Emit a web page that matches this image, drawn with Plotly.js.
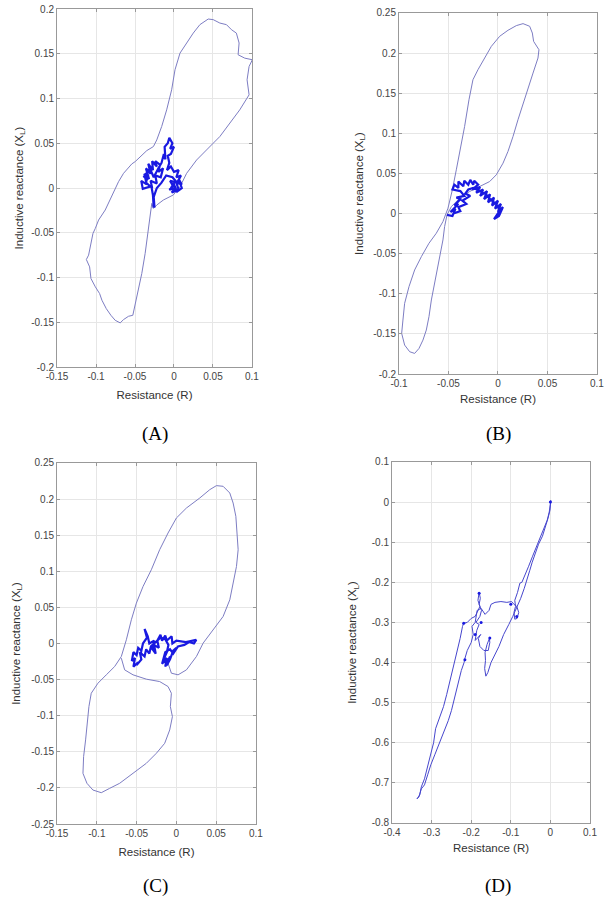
<!DOCTYPE html>
<html>
<head>
<meta charset="utf-8">
<script src="https://cdn.plot.ly/plotly-3.0.1.min.js"></script>
<style>html,body{margin:0;padding:0;background:#fff;}#chart{width:606px;height:900px;}</style>
</head>
<body>
<div id="chart"></div>
<script>
// ---------- Panel A ----------
var loopA_R = [-0.0285,-0.0307,-0.0328,-0.037,-0.0413,-0.0456,-0.0498,-0.0528,-0.0583,-0.0647,-0.069,-0.0754,-0.0809,-0.0869,-0.0924,-0.0954,-0.1009,-0.1065,-0.1082,-0.1124,-0.1095,-0.1073,-0.1039,-0.1009,-0.0967,-0.0882,-0.0818,-0.0754,-0.0711,-0.0647,-0.0541,-0.0498,-0.0434,-0.0349,-0.0264,-0.0221,-0.0158,-0.0094,-0.003,0.0013,0.0077,0.0162,0.0247,0.0332,0.0439,0.0503,0.0588,0.0673,0.0737,0.08,0.0835,0.0822,0.0907,0.1005,0.0963,0.0937,0.0963,0.0843,0.0716,0.0588,0.0417,0.029,0.0162,0.0077,-0.0009,-0.0136,-0.0221,-0.0264,-0.0285];
var loopA_X = [-0.0172,-0.032,-0.0507,-0.0731,-0.0955,-0.1142,-0.1328,-0.1422,-0.1433,-0.147,-0.1507,-0.1478,-0.1422,-0.1347,-0.1254,-0.1179,-0.1104,-0.1011,-0.0881,-0.0799,-0.075,-0.0657,-0.0507,-0.0451,-0.0358,-0.0246,-0.0134,-0.0022,0.0071,0.0164,0.0269,0.0295,0.0351,0.0418,0.0463,0.0537,0.0687,0.0873,0.1097,0.1321,0.1507,0.1619,0.1731,0.1825,0.1888,0.1881,0.1843,0.1825,0.1769,0.1731,0.162,0.1489,0.1451,0.1433,0.1358,0.1209,0.1041,0.0873,0.0724,0.0575,0.0425,0.0313,0.0164,0.0015,-0.0078,-0.0134,-0.019,-0.0228,-0.0172];
var coreA_R = [-0.026,-0.027,-0.029,-0.04,-0.042,-0.035,-0.038,-0.032,-0.036,-0.03,-0.033,-0.027,-0.028,-0.022,-0.024,-0.018,-0.02,-0.014,-0.017,-0.024,-0.022,-0.03,-0.028,-0.036,-0.033,-0.039,-0.031,-0.026,-0.02,-0.016,-0.013,-0.011,-0.012,-0.008,-0.006,-0.002,-0.005,0.0,-0.004,-0.008,-0.006,-0.009,-0.004,0.0,0.006,0.003,0.009,0.004,-0.005,-0.001,-0.006,0.002,-0.003,0.006,0.003,0.01,0.006,0.01,0.004,0.0,-0.004,0.002,-0.002,-0.01,-0.016,-0.022,-0.026,-0.025];
var coreA_X = [-0.022,-0.008,0.002,-0.001,0.008,0.004,0.016,0.01,0.022,0.016,0.027,0.02,0.03,0.024,0.03,0.026,0.018,0.022,0.012,0.014,0.005,0.008,0.0,0.006,0.015,0.012,0.022,0.012,0.022,0.028,0.038,0.032,0.046,0.05,0.056,0.05,0.044,0.046,0.038,0.036,0.028,0.02,0.024,0.018,0.02,0.012,0.014,0.006,0.008,0.002,-0.002,0.0,-0.005,-0.002,0.006,0.004,0.01,0.0,-0.004,0.004,0.0,0.008,0.012,0.014,0.006,0.0,-0.01,-0.022];

// ---------- Panel B ----------
var loopB_R = [0.0253,0.032,0.0347,0.036,0.0414,0.0404,0.0354,0.0303,0.0253,0.0202,0.0152,0.0101,0.0051,-0.0017,-0.0084,-0.0185,-0.0286,-0.0387,-0.0471,-0.0515,-0.0539,-0.0556,-0.0582,-0.0606,-0.064,-0.0673,-0.0697,-0.0724,-0.0758,-0.0798,-0.0842,-0.0892,-0.0943,-0.0973,-0.096,-0.0943,-0.0899,-0.0842,-0.0774,-0.0697,-0.0623,-0.0556,-0.0505,-0.0461,-0.0421,-0.038,-0.0337,-0.0293,-0.0253,-0.0202,-0.0135,-0.0067,0.0017,0.0101,0.0185,0.0253];
var loopB_X = [0.2367,0.2334,0.225,0.2146,0.2042,0.1938,0.1751,0.1564,0.1377,0.1169,0.0961,0.0774,0.0628,0.0483,0.0399,0.0337,0.0275,0.0191,0.0087,-0.0017,-0.0162,-0.0329,-0.0495,-0.0661,-0.0869,-0.1077,-0.1285,-0.1452,-0.1577,-0.1681,-0.1743,-0.1722,-0.1639,-0.1493,-0.1327,-0.1119,-0.0911,-0.0703,-0.0537,-0.037,-0.0245,-0.01,0.0067,0.0295,0.0545,0.0795,0.1086,0.1418,0.1668,0.1793,0.1938,0.2084,0.2209,0.2284,0.2342,0.2367];
var coreB_R = [-0.0515,-0.046,-0.043,-0.048,-0.04,-0.044,-0.038,-0.042,-0.034,-0.038,-0.046,-0.044,-0.04,-0.04,-0.035,-0.034,-0.03,-0.028,-0.025,-0.024,-0.02,-0.026,-0.018,-0.022,-0.015,-0.018,-0.011,-0.014,-0.008,-0.01,-0.004,-0.006,0.0,-0.003,0.003,0.0,0.005,0.001,-0.004,0.002,-0.002,-0.008,-0.012,-0.018,-0.025,-0.03,-0.033,-0.028,-0.036,-0.032,-0.04,-0.038,-0.045];
var coreB_X = [-0.0017,-0.003,0.006,0.002,0.012,0.01,0.018,0.02,0.022,0.028,0.03,0.036,0.032,0.04,0.034,0.041,0.036,0.042,0.036,0.041,0.036,0.03,0.033,0.026,0.03,0.022,0.028,0.018,0.024,0.014,0.02,0.01,0.016,0.006,0.012,0.002,0.008,-0.003,-0.007,0.004,0.012,0.018,0.024,0.028,0.032,0.03,0.025,0.022,0.016,0.012,0.008,0.003,0.0];

// ---------- Panel C ----------
var loopC_R = [-0.0692,-0.065,-0.0545,-0.0378,-0.021,-0.0105,-0.0063,-0.0076,-0.005,-0.0084,-0.0147,-0.0252,-0.0378,-0.0545,-0.0713,-0.0839,-0.0944,-0.1049,-0.1124,-0.1174,-0.1166,-0.1141,-0.1124,-0.1099,-0.107,-0.0986,-0.0881,-0.0776,-0.0692,-0.0629,-0.0566,-0.0503,-0.0419,-0.0315,-0.021,-0.0105,0.0,0.0126,0.0294,0.0419,0.0503,0.0587,0.0671,0.0713,0.0747,0.0763,0.0776,0.0755,0.0713,0.0671,0.0587,0.0461,0.0336,0.0252,0.0126,0.0021,-0.0063,-0.0105];
var loopC_X = [-0.0203,-0.0365,-0.0434,-0.0494,-0.0527,-0.0596,-0.0689,-0.0873,-0.1012,-0.1197,-0.1382,-0.152,-0.1659,-0.1798,-0.1936,-0.2006,-0.2066,-0.2029,-0.1936,-0.1798,-0.1567,-0.1335,-0.1104,-0.0873,-0.0689,-0.055,-0.0434,-0.0319,-0.018,0.0051,0.0328,0.0559,0.079,0.1021,0.1299,0.153,0.1738,0.1876,0.2015,0.213,0.2186,0.2177,0.2084,0.1945,0.1761,0.153,0.1299,0.1067,0.0836,0.0605,0.0374,0.0189,0.0005,-0.018,-0.0365,-0.0434,-0.0411,-0.0273];
var coreC_R = [-0.0105,-0.008,-0.014,-0.012,-0.018,-0.014,-0.008,-0.004,0.002,0.01,0.016,0.022,0.025,0.012,0.0,-0.005,-0.006,-0.012,-0.014,-0.018,-0.02,-0.024,-0.022,-0.028,-0.026,-0.03,-0.028,-0.034,-0.036,-0.04,-0.037,-0.042,-0.044,-0.048,-0.05,-0.054,-0.056,-0.052,-0.054,-0.048,-0.05,-0.044,-0.046,-0.04,-0.038,-0.034,-0.032,-0.026,-0.02,-0.014,-0.01,-0.012,-0.016,-0.012,-0.008,-0.004,0.0];
var coreC_X = [-0.0273,-0.018,-0.032,-0.02,-0.028,-0.012,-0.008,-0.014,-0.004,-0.002,0.002,0.0,0.005,0.002,0.004,0.0,0.01,0.004,0.011,0.004,0.012,0.004,-0.006,-0.002,-0.014,-0.008,0.004,0.0,0.01,0.02,0.008,0.0,-0.01,-0.006,-0.016,-0.012,-0.024,-0.02,-0.032,-0.026,-0.03,-0.022,-0.012,-0.018,-0.008,-0.014,-0.004,0.002,0.008,0.006,-0.002,-0.012,-0.022,-0.03,-0.022,-0.01,-0.006];

// ---------- Panel D ----------
var pathD_R = [0.001,-0.001,-0.006,-0.012,-0.02,-0.03,-0.038,-0.046,-0.052,-0.058,-0.061,-0.066,-0.075,-0.085,-0.095,-0.105,-0.118,-0.13,-0.14,-0.15,-0.158,-0.163,-0.166,-0.164,-0.165,-0.16,-0.154,-0.153,-0.157,-0.168,-0.178,-0.182,-0.176,-0.19,-0.186,-0.18,-0.188,-0.178,-0.174,-0.18,-0.177,-0.18,-0.183,-0.178,-0.185,-0.19,-0.2,-0.21,-0.219,-0.222,-0.228,-0.235,-0.245,-0.255,-0.262,-0.27,-0.28,-0.29,-0.295,-0.302,-0.31,-0.318,-0.326,-0.33,-0.337,-0.332,-0.326,-0.318,-0.31,-0.302,-0.292,-0.28,-0.268,-0.258,-0.25,-0.24,-0.232,-0.225,-0.218,-0.216,-0.21,-0.2,-0.195,-0.198,-0.19,-0.185,-0.175,-0.165,-0.155,-0.15,-0.14,-0.125,-0.11,-0.098,-0.092,-0.085,-0.08,-0.084,-0.09,-0.092,-0.088,-0.09,-0.083,-0.077,-0.072,-0.065,-0.055,-0.045,-0.035,-0.025,-0.015,-0.008,-0.003,0.0,0.001];
var pathD_X = [0.005,-0.02,-0.04,-0.06,-0.085,-0.105,-0.125,-0.15,-0.17,-0.19,-0.198,-0.215,-0.24,-0.265,-0.285,-0.305,-0.33,-0.36,-0.38,-0.4,-0.425,-0.434,-0.415,-0.395,-0.375,-0.355,-0.34,-0.35,-0.37,-0.37,-0.36,-0.34,-0.33,-0.345,-0.32,-0.305,-0.3,-0.285,-0.27,-0.255,-0.24,-0.225,-0.245,-0.26,-0.275,-0.285,-0.29,-0.3,-0.302,-0.31,-0.34,-0.37,-0.41,-0.45,-0.48,-0.51,-0.54,-0.565,-0.6,-0.63,-0.66,-0.69,-0.71,-0.73,-0.74,-0.735,-0.715,-0.705,-0.68,-0.655,-0.63,-0.6,-0.575,-0.545,-0.52,-0.48,-0.45,-0.42,-0.4,-0.39,-0.37,-0.35,-0.33,-0.31,-0.3,-0.27,-0.265,-0.28,-0.27,-0.255,-0.25,-0.248,-0.25,-0.248,-0.255,-0.26,-0.275,-0.29,-0.292,-0.275,-0.26,-0.245,-0.225,-0.202,-0.2,-0.185,-0.16,-0.135,-0.11,-0.085,-0.06,-0.045,-0.025,-0.005,0.003];
var dotsD_R = [0.0,-0.219,-0.216,-0.153,-0.18,-0.085,-0.1,-0.19,-0.175];
var dotsD_X = [0.0,-0.302,-0.393,-0.339,-0.227,-0.285,-0.255,-0.33,-0.3];

// ---------- Ticks ----------
var ticksR_AC = [-0.15,-0.1,-0.05,0,0.05,0.1];
var labelsR_AC = ['-0.15','-0.1','-0.05','0','0.05','0.1'];
var ticksX_A = [-0.2,-0.15,-0.1,-0.05,0,0.05,0.1,0.15,0.2];
var labelsX_A = ['-0.2','-0.15','-0.1','-0.05','0','0.05','0.1','0.15','0.2'];
var ticksR_B = [-0.1,-0.05,0,0.05,0.1];
var labelsR_B = ['-0.1','-0.05','0','0.05','0.1'];
var ticksX_B = [-0.2,-0.15,-0.1,-0.05,0,0.05,0.1,0.15,0.2,0.25];
var labelsX_B = ['-0.2','-0.15','-0.1','-0.05','0','0.05','0.1','0.15','0.2','0.25'];
var ticksX_C = [-0.25,-0.2,-0.15,-0.1,-0.05,0,0.05,0.1,0.15,0.2,0.25];
var labelsX_C = ['-0.25','-0.2','-0.15','-0.1','-0.05','0','0.05','0.1','0.15','0.2','0.25'];
var ticksR_D = [-0.4,-0.3,-0.2,-0.1,0,0.1];
var labelsR_D = ['-0.4','-0.3','-0.2','-0.1','0','0.1'];
var ticksX_D = [-0.8,-0.7,-0.6,-0.5,-0.4,-0.3,-0.2,-0.1,0,0.1];
var labelsX_D = ['-0.8','-0.7','-0.6','-0.5','-0.4','-0.3','-0.2','-0.1','0','0.1'];

var panelLabels = ['(A)','(B)','(C)','(D)'];
var xTitle = 'Resistance (R)';
var yTitle = 'Inductive reactance (X<sub>L</sub>)';

var outlineColor = 'rgb(125,125,195)';
var coreColor = 'rgb(25,25,225)';
var pathDColor = 'rgb(70,70,205)';

function line(xs, ys, ax, color, w) {
  return {x: xs, y: ys, xaxis: 'x' + ax, yaxis: 'y' + ax, type: 'scatter', mode: 'lines',
          line: {color: color, width: w}, hoverinfo: 'skip', showlegend: false, cliponaxis: true};
}

var data = [
  line(loopA_R, loopA_X, '', outlineColor, 1),
  line(coreA_R, coreA_X, '', coreColor, 2.2),
  line(loopB_R, loopB_X, '2', outlineColor, 1),
  line(coreB_R, coreB_X, '2', coreColor, 2.2),
  line(loopC_R, loopC_X, '3', outlineColor, 1),
  line(coreC_R, coreC_X, '3', coreColor, 2.2),
  line(pathD_R, pathD_X, '4', pathDColor, 1),
  {x: dotsD_R, y: dotsD_X, xaxis: 'x4', yaxis: 'y4', type: 'scatter', mode: 'markers',
   marker: {color: coreColor, size: 3}, hoverinfo: 'skip', showlegend: false}
];

var tickFont = {family: 'Liberation Sans, Arial, sans-serif', size: 10, color: '#444'};
var titleFont = {family: 'Liberation Sans, Arial, sans-serif', size: 11.5, color: '#333'};

function axis(domain, range, tv, tt, title, standoff, anchor) {
  return {domain: domain, range: range, tickmode: 'array', tickvals: tv, ticktext: tt,
          ticks: 'inside', ticklen: 3, tickcolor: '#999', showline: true, mirror: 'ticks',
          linecolor: '#999', linewidth: 1, showgrid: true, gridcolor: '#e6e6e6', gridwidth: 1,
          zeroline: false, tickfont: tickFont, anchor: anchor, fixedrange: true,
          title: {text: title, font: titleFont, standoff: standoff}, automargin: false};
}

var layout = {
  width: 606, height: 900,
  margin: {l: 0, r: 0, t: 0, b: 0},
  paper_bgcolor: '#fff', plot_bgcolor: '#fff',
  showlegend: false,
  xaxis:  axis([0.0941, 0.4158], [-0.15, 0.1], ticksR_AC, labelsR_AC, xTitle, 9, 'y'),
  yaxis:  axis([0.5922, 0.99], [-0.2, 0.2], ticksX_A, labelsX_A, yTitle, 5, 'x'),
  xaxis2: axis([0.6584, 0.9851], [-0.1, 0.1], ticksR_B, labelsR_B, xTitle, 6, 'y2'),
  yaxis2: axis([0.5844, 0.9856], [-0.2, 0.25], ticksX_B, labelsX_B, yTitle, 7, 'x2'),
  xaxis3: axis([0.0941, 0.4224], [-0.15, 0.1], ticksR_AC, labelsR_AC, xTitle, 9, 'y3'),
  yaxis3: axis([0.0844, 0.4856], [-0.25, 0.25], ticksX_C, labelsX_C, yTitle, 8, 'x3'),
  xaxis4: axis([0.6469, 0.9736], [-0.4, 0.1], ticksR_D, labelsR_D, xTitle, 6, 'y4'),
  yaxis4: axis([0.0856, 0.4867], [-0.8, 0.1], ticksX_D, labelsX_D, yTitle, 12, 'x4'),
  annotations: [
    {text: panelLabels[0], x: 0.2558, y: 0.5178},
    {text: panelLabels[1], x: 0.8218, y: 0.5178},
    {text: panelLabels[2], x: 0.2558, y: 0.0156},
    {text: panelLabels[3], x: 0.8218, y: 0.0156}
  ].map(function (a) {
    return {text: a.text, x: a.x, y: a.y, xref: 'paper', yref: 'paper', showarrow: false,
            xanchor: 'center', yanchor: 'middle',
            font: {family: 'Liberation Serif, Times New Roman, serif', size: 19, color: '#000'}};
  })
};

Plotly.newPlot('chart', data, layout, {staticPlot: true, displayModeBar: false});
</script>
</body>
</html>
